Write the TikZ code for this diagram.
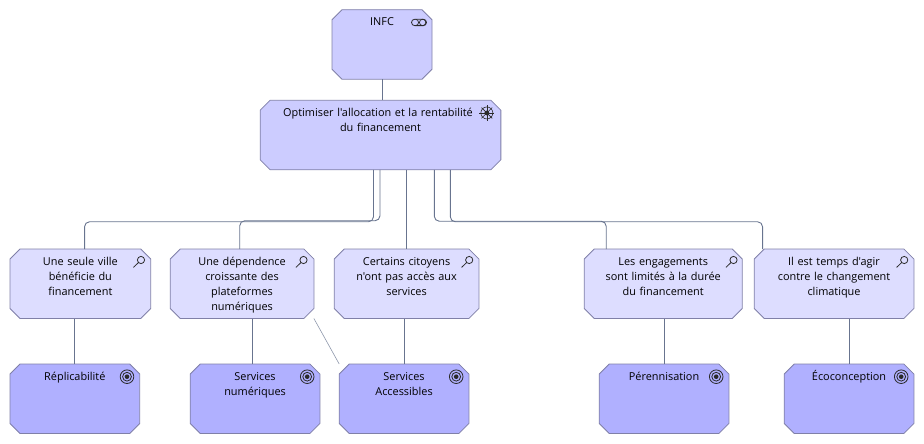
\documentclass[tikz,border=0pt]{standalone}
\usepackage{fontspec}
\setmainfont[Ligatures=TeXOff]{Open Sans}
\usetikzlibrary{shapes.misc, positioning}
\definecolor{goalfill}{HTML}{B0B0FF}
\definecolor{assessfill}{HTML}{DDDDFF}
\definecolor{topfill}{HTML}{CCCCFF}
\definecolor{edgeblue}{HTML}{8080A8}
\definecolor{linkblue}{HTML}{68748F}
\definecolor{iconblack}{HTML}{2A2A2A}
\tikzset{
  lens/.pic={\draw[iconblack, line width=.8pt] (0,0) circle (3.6) (-2.5,-2.5) -- (-7.6,-7.4);},
  goalmark/.pic={\draw[iconblack, line width=.8pt] (0,0) circle (6.8) (0,0) circle (4.4); \fill[iconblack] (0,0) circle (2.3);},
  wheel/.pic={\draw[iconblack, line width=.6pt] (0,0) circle (6);
    \foreach \a in {0,45,...,315} {\draw[iconblack, line width=.6pt] (0,0) -- (\a:7.6);}
    \fill[iconblack] (0,0) circle (2.4);},
  capsule/.pic={\draw[iconblack, line width=.8pt, rounded corners=3.2pt] (-7.5,-3.2) rectangle (7.5,3.2); \draw[iconblack, line width=.7pt] (3.6,0) circle (3.2) (-3.6,3.2) arc (90:-90:3.2);}
}
\begin{document}
\begin{tikzpicture}[x=1pt, y=1pt,
  octa/.style={chamfered rectangle, chamfered rectangle xsep=5pt, chamfered rectangle ysep=5pt, draw=edgeblue, line width=.8pt, inner sep=0pt, outer sep=0pt, align=center, text=black, font=\fontsize{10.9}{15}\selectfont, text height=11pt, text depth=48.5pt},
  topbox/.style={octa, fill=topfill},
  assessbox/.style={octa, fill=assessfill},
  goalbox/.style={octa, fill=goalfill},
  link/.style={draw=linkblue, line width=.9pt, rounded corners=5pt},
  thinlink/.style={draw=linkblue!75, line width=.6pt}]
    \useasboundingbox (0,0) rectangle (924,-444);

    %Nodes
    \node[topbox, text width=90pt](infc) at (382,-44.5){INFC};
    \node[topbox, text width=230.7pt](optimiser)[below=21pt of infc, xshift=-1.5pt]{Optimiser l'allocation et la rentabilité\hspace*{5pt}\mbox{}\\du financement};
    \node[assessbox, text width=130.7pt](ville) at (80.35,-283.75){Une seule ville\\bénéficie du\\financement};
    \node[assessbox, text width=133.7pt](dependence)[right=19.5pt of ville]{Une dépendence\\croissante des\\plateformes\\numériques};
    \node[assessbox, text width=134.7pt](citoyens)[right=20.3pt of dependence]{Certains citoyens\\n'ont pas accès aux\\services};
    \node[assessbox, text width=148pt](engagements)[right=105.3pt of citoyens]{Les engagements\\sont limités à la durée\\du financement};
    \node[assessbox, text width=149.7pt](agir)[right=12pt of engagements]{Il est temps d'agir\\contre le changement\\climatique};
    \node[goalbox, text width=119.7pt](replicabilite)[below=45.5pt of ville, xshift=-5.5pt]{Réplicabilité};
    \node[goalbox, text width=119.7pt](numeriques)[below=45.5pt of dependence, xshift=13pt]{Services\\numériques};
    \node[goalbox, text width=119.7pt](accessibles)[below=45.5pt of citoyens, xshift=-2.5pt]{Services\\Accessibles};
    \node[goalbox, text width=119.7pt](perennisation)[below=45.5pt of engagements, xshift=.85pt]{Pérennisation};
    \node[goalbox, text width=119.7pt](ecoconception)[below=45.5pt of agir, xshift=15pt]{Écoconception};

    %Icons
    \pic[shift={(-13,-12.7)}] at (infc.east |- infc.north) {capsule};
    \pic[shift={(-14,-12.7)}] at (optimiser.east |- optimiser.north) {wheel};
    \pic[shift={(-9.7,-11)}] at (ville.east |- ville.north) {lens};
    \pic[shift={(-10.4,-11)}] at (dependence.east |- dependence.north) {lens};
    \pic[shift={(-9.7,-11)}] at (citoyens.east |- citoyens.north) {lens};
    \pic[shift={(-8.7,-11)}] at (engagements.east |- engagements.north) {lens};
    \pic[shift={(-9.7,-11)}] at (agir.east |- agir.north) {lens};
    \pic[shift={(-12.7,-12.7)}] at (replicabilite.east |- replicabilite.north) {goalmark};
    \pic[shift={(-12.7,-12.7)}] at (numeriques.east |- numeriques.north) {goalmark};
    \pic[shift={(-12.7,-12.7)}] at (accessibles.east |- accessibles.north) {goalmark};
    \pic[shift={(-12.7,-12.7)}] at (perennisation.east |- perennisation.north) {goalmark};
    \pic[shift={(-12.7,-12.7)}] at (ecoconception.east |- ecoconception.north) {goalmark};

    %Lines
    \draw[link] (infc.south) -- (infc.south |- optimiser.north);
    \draw[link] ([xshift=-7pt]optimiser.south) -- ++(0,-52) -| ([xshift=4.2pt]ville.north);
    \draw[link] ([xshift=-.5pt]optimiser.south) -- ++(0,-51) -| ([xshift=-2.3pt]dependence.north);
    \draw[link] ([xshift=25.5pt]optimiser.south) -- ([xshift=25.5pt]optimiser.south |- citoyens.north);
    \draw[link] ([xshift=53.8pt]optimiser.south) -- ++(0,-51.5) -| ([xshift=-57pt]engagements.north);
    \draw[link] ([xshift=69.8pt]optimiser.south) -- ++(0,-52) -| ([xshift=-71.5pt]agir.north);
    \draw[link] (replicabilite.north) -- (replicabilite.north |- ville.south);
    \draw[link] ([xshift=-2.5pt]numeriques.north) -- ([xshift=-2.5pt]numeriques.north |- dependence.south);
    \draw[link] (accessibles.north) -- (accessibles.north |- citoyens.south);
    \draw[link] (perennisation.north) -- (perennisation.north |- engagements.south);
    \draw[link] (ecoconception.north) -- (ecoconception.north |- agir.south);
    \draw[thinlink] (dependence.east |- dependence.south) -- (accessibles.west |- accessibles.north);

\end{tikzpicture}
\end{document}
